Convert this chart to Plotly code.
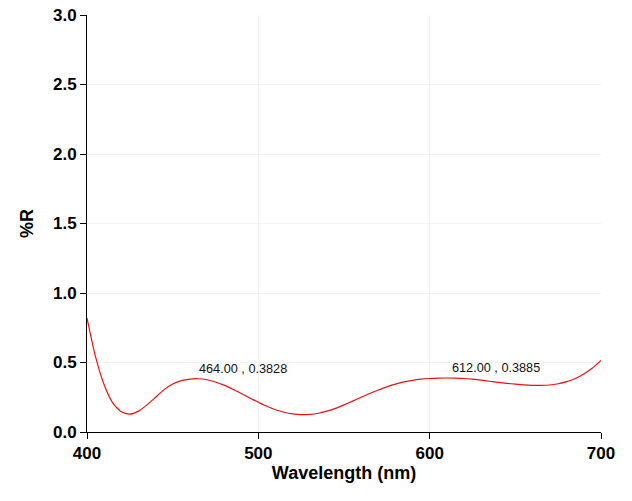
import plotly.graph_objects as go

wavelength = [400, 405, 410, 415, 420, 425, 430, 435, 440, 445, 450, 455, 460, 465, 470, 475, 480, 485, 490, 495,
              500, 505, 510, 515, 520, 525, 530, 535, 540, 545, 550, 555, 560, 565, 570, 575, 580, 585, 590, 595,
              600, 605, 610, 615, 620, 625, 630, 635, 640, 645, 650, 655, 660, 665, 670, 675, 680, 685, 690, 695, 700]
reflectance = [0.82, 0.54, 0.34, 0.21, 0.145, 0.128, 0.15, 0.195, 0.25, 0.305, 0.345, 0.37, 0.381, 0.383, 0.376, 0.36, 0.337, 0.308, 0.277, 0.245,
               0.214, 0.185, 0.16, 0.142, 0.13, 0.125, 0.127, 0.135, 0.15, 0.17, 0.195, 0.222, 0.25, 0.277, 0.302, 0.325, 0.344, 0.36, 0.372, 0.38,
               0.385, 0.388, 0.3885, 0.388, 0.385, 0.38, 0.373, 0.365, 0.357, 0.35, 0.344, 0.339, 0.336, 0.335, 0.338, 0.347, 0.362, 0.385, 0.418, 0.46, 0.515]

peaks_x = [464.00, 612.00]
peaks_y = [0.3828, 0.3885]

fig = go.Figure()
fig.add_trace(go.Scatter(x=wavelength, y=reflectance, mode="lines",
                         line=dict(color="#ee1111", width=1.2, shape="spline", smoothing=0.6),
                         showlegend=False, hoverinfo="x+y"))

for px, py in zip(peaks_x, peaks_y):
    fig.add_annotation(x=px, y=py, text=f"{px:.2f} , {py:.4f}", showarrow=False,
                       xanchor="left", yanchor="bottom", yshift=1,
                       font=dict(family="Liberation Sans, Arial", size=12.7, color="#111111"))

tick_font = dict(family="Liberation Sans, Arial", size=17, color="#000000", weight="bold")
title_font = dict(family="Liberation Sans, Arial", size=18, color="#000000", weight="bold")
fig.update_layout(
    width=632, height=501,
    margin=dict(l=87, r=31, t=15, b=69, autoexpand=False),
    paper_bgcolor="white", plot_bgcolor="white",
    xaxis=dict(range=[400, 700], tickvals=[400, 500, 600, 700], ticks="outside", ticklen=6,
               tickcolor="black", showline=True, linecolor="black", linewidth=1,
               showgrid=True, gridcolor="#f2f2f2", zeroline=False, automargin=False,
               tickfont=tick_font,
               title=dict(text="Wavelength (nm)", font=title_font, standoff=0)),
    yaxis=dict(range=[0, 3.0], tickvals=[0, 0.5, 1.0, 1.5, 2.0, 2.5, 3.0], tickformat=".1f",
               ticks="outside", ticklen=6, tickcolor="black", showline=True, linecolor="black", linewidth=1,
               showgrid=True, gridcolor="#f2f2f2", zeroline=False, automargin=False,
               tickfont=tick_font,
               title=dict(text="%R", font=title_font, standoff=14)),
)

fig.write_html("out.html", config={"displayModeBar": False},
               post_script="document.body.style.margin='0';document.body.style.overflow='hidden';")
